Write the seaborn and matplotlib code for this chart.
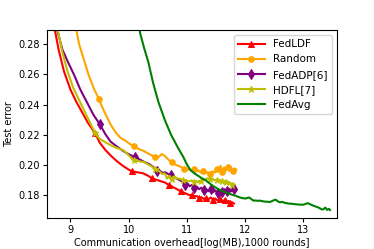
import numpy as np
import pandas as pd
import matplotlib
matplotlib.use("Agg")
import matplotlib.pyplot as plt
import seaborn as sns

# ---------------- data ----------------
ldf_x = [8.70, 8.73, 8.80, 8.89, 9.00, 9.10, 9.20, 9.30, 9.40, 9.43, 9.50, 9.60, 9.70, 9.80, 9.90,
         10.00, 10.06, 10.15, 10.25, 10.33, 10.40, 10.48, 10.55, 10.62, 10.69, 10.76, 10.83, 10.90,
         10.96, 11.00, 11.05, 11.09, 11.13, 11.17, 11.21, 11.25, 11.29, 11.33, 11.37, 11.41, 11.45,
         11.49, 11.53, 11.57, 11.61, 11.65, 11.69, 11.72, 11.75, 11.78, 11.81]
ldf_y = [0.296, 0.290, 0.276, 0.262, 0.250, 0.242, 0.235, 0.228, 0.2225, 0.2210, 0.2150, 0.2100,
         0.2060, 0.2025, 0.1995, 0.1970, 0.1958, 0.1952, 0.1945, 0.1930, 0.1912, 0.1902, 0.1893,
         0.1885, 0.1868, 0.1855, 0.1840, 0.1825, 0.1815, 0.1808, 0.1800, 0.1803, 0.1792, 0.1795,
         0.1783, 0.1787, 0.1776, 0.1782, 0.1773, 0.1785, 0.1770, 0.1778, 0.1765, 0.1772, 0.1760,
         0.1767, 0.1755, 0.1762, 0.1748, 0.1753, 0.1745]
ldf_marks = [9.43, 10.06, 10.40, 10.69, 10.90, 11.09, 11.21, 11.33, 11.45, 11.57, 11.65, 11.75]

rnd_x = [9.07, 9.10, 9.15, 9.23, 9.31, 9.40, 9.49, 9.58, 9.69, 9.78, 9.86, 9.95, 10.02, 10.09,
         10.18, 10.25, 10.32, 10.39, 10.46, 10.52, 10.57, 10.62, 10.66, 10.70, 10.74, 10.79, 10.85,
         10.90, 10.95, 11.00, 11.04, 11.08, 11.12, 11.16, 11.20, 11.24, 11.28, 11.32, 11.36, 11.40,
         11.44, 11.48, 11.52, 11.55, 11.58, 11.61, 11.64, 11.67, 11.70, 11.73, 11.76, 11.79, 11.82,
         11.85]
rnd_y = [0.300, 0.290, 0.280, 0.270, 0.260, 0.251, 0.2435, 0.2355, 0.2269, 0.2215, 0.2180, 0.2160,
         0.2140, 0.2124, 0.2105, 0.2095, 0.2080, 0.2065, 0.2050, 0.2055, 0.2073, 0.2060, 0.2045,
         0.2030, 0.2018, 0.2005, 0.1995, 0.1988, 0.1975, 0.1965, 0.1975, 0.1962, 0.1972, 0.1958,
         0.1965, 0.1950, 0.1958, 0.1945, 0.1952, 0.1942, 0.1958, 0.1950, 0.1972, 0.1960, 0.1995,
         0.1955, 0.1985, 0.1962, 0.1990, 0.1960, 0.1985, 0.1958, 0.1978, 0.1970]
rnd_marks = [9.49, 10.09, 10.46, 10.74, 10.95, 11.12, 11.28, 11.40, 11.52, 11.61, 11.70, 11.79]

adp_x = [8.74, 8.77, 8.86, 8.96, 9.06, 9.17, 9.29, 9.40, 9.50, 9.60, 9.69, 9.80, 9.90, 9.97,
         10.04, 10.11, 10.20, 10.28, 10.36, 10.43, 10.49, 10.54, 10.58, 10.63, 10.68, 10.73, 10.78,
         10.83, 10.88, 10.93, 10.97, 11.01, 11.05, 11.09, 11.13, 11.17, 11.21, 11.25, 11.29, 11.33,
         11.37, 11.41, 11.45, 11.49, 11.53, 11.57, 11.61, 11.65, 11.69, 11.73, 11.77, 11.81, 11.84]
adp_y = [0.300, 0.290, 0.2767, 0.268, 0.260, 0.250, 0.2411, 0.2330, 0.2273, 0.2205, 0.2155,
         0.2122, 0.2095, 0.2078, 0.2065, 0.2050, 0.2035, 0.2018, 0.2005, 0.1985, 0.1960, 0.1962,
         0.1948, 0.1952, 0.1940, 0.1932, 0.1918, 0.1910, 0.1900, 0.1888, 0.1870, 0.1878, 0.1860,
         0.1868, 0.1848, 0.1858, 0.1840, 0.1850, 0.1832, 0.1842, 0.1826, 0.1838, 0.1820, 0.1832,
         0.1815, 0.1828, 0.1822, 0.1840, 0.1825, 0.1842, 0.1826, 0.1840, 0.1830]
adp_marks = [9.50, 10.11, 10.49, 10.73, 10.97, 11.13, 11.29, 11.41, 11.53, 11.61, 11.69, 11.81]

hdfl_x = [8.75, 8.78, 8.86, 8.95, 9.05, 9.15, 9.25, 9.35, 9.43, 9.50, 9.58, 9.66, 9.74, 9.82,
          9.91, 10.00, 10.09, 10.18, 10.26, 10.33, 10.40, 10.46, 10.50, 10.54, 10.58, 10.62, 10.66,
          10.70, 10.74, 10.78, 10.83, 10.89, 10.94, 10.99, 11.04, 11.08, 11.12, 11.16, 11.20, 11.24,
          11.28, 11.32, 11.36, 11.40, 11.44, 11.48, 11.52, 11.56, 11.60, 11.64, 11.68, 11.72, 11.75,
          11.78, 11.81]
hdfl_y = [0.296, 0.290, 0.275, 0.262, 0.251, 0.243, 0.235, 0.227, 0.221, 0.2175, 0.2155, 0.2138,
          0.2122, 0.2110, 0.2098, 0.2065, 0.2030, 0.2025, 0.2020, 0.2005, 0.1990, 0.1972, 0.1968,
          0.1955, 0.1940, 0.1945, 0.1910, 0.1930, 0.1905, 0.1925, 0.1912, 0.1908, 0.1900, 0.1895,
          0.1892, 0.1898, 0.1888, 0.1894, 0.1885, 0.1895, 0.1900, 0.1905, 0.1912, 0.1906, 0.1910,
          0.1898, 0.1902, 0.1890, 0.1895, 0.1882, 0.1888, 0.1875, 0.1882, 0.1868, 0.1875]
hdfl_marks = [9.43, 10.09, 10.46, 10.74, 10.94, 11.12, 11.24, 11.40, 11.52, 11.60, 11.68, 11.78]

avg_x = [10.16, 10.20, 10.27, 10.34, 10.42, 10.51, 10.62, 10.73, 10.84, 10.94, 11.00, 11.06,
         11.13, 11.20, 11.26, 11.32, 11.38, 11.43, 11.49, 11.54, 11.60, 11.66, 11.72, 11.78, 11.83,
         11.88, 11.93, 11.97, 12.01, 12.04, 12.07, 12.10, 12.14, 12.18, 12.22, 12.26, 12.30, 12.34,
         12.38, 12.42, 12.46, 12.50, 12.53, 12.56, 12.60, 12.64, 12.68, 12.72, 12.76, 12.80, 12.84,
         12.88, 12.92, 12.96, 13.00, 13.04, 13.08, 13.12, 13.16, 13.20, 13.24, 13.28, 13.32, 13.35,
         13.38, 13.41, 13.44, 13.46]
avg_y = [0.296, 0.287, 0.277, 0.268, 0.2545, 0.242, 0.230, 0.220, 0.212, 0.2053, 0.2005, 0.1967,
         0.1945, 0.1927, 0.1912, 0.1900, 0.1882, 0.1867, 0.1852, 0.1840, 0.1830, 0.1820, 0.1812,
         0.1803, 0.1797, 0.1790, 0.1783, 0.1780, 0.1778, 0.1782, 0.1785, 0.1777, 0.1765, 0.1765,
         0.1763, 0.1764, 0.1760, 0.1758, 0.1757, 0.1755, 0.1760, 0.1768, 0.1770, 0.1760, 0.1753,
         0.1756, 0.1750, 0.1747, 0.1744, 0.1744, 0.1741, 0.1740, 0.1738, 0.1738, 0.1737, 0.1742,
         0.1748, 0.1740, 0.1733, 0.1727, 0.1722, 0.1715, 0.1705, 0.1708, 0.1718, 0.1703, 0.1710,
         0.1702]

x_label = "Communication overhead[log(MB),1000 rounds]"
y_label = "Test error"

# ---------------- plot ----------------
plt.rcParams['font.family'] = ['DejaVu Sans']
plt.rcParams['font.size'] = 7

fig, ax = plt.subplots(figsize=(3.74, 2.49), dpi=100)
fig.subplots_adjust(left=0.126, right=0.901, top=0.88, bottom=0.125)


def mark_idx(xs, marks):
    xs = np.asarray(xs)
    return [int(np.argmin(np.abs(xs - m))) for m in marks]


series = [
    ("FedLDF", ldf_x, ldf_y, ldf_marks, "red", "^", 4.5),
    ("Random", rnd_x, rnd_y, rnd_marks, "orange", "o", 4.0),
    ("FedADP[6]", adp_x, adp_y, adp_marks, "purple", "d", 5.0),
    ("HDFL[7]", hdfl_x, hdfl_y, hdfl_marks, "y", "*", 5.0),
    ("FedAvg", avg_x, avg_y, None, "green", None, 0),
]

for name, xs, ys, marks, col, mk, ms in series:
    df = pd.DataFrame({"x": xs, "y": ys})
    kw = dict(color=col, linewidth=1.5, label=name)
    if mk is not None:
        kw.update(marker=mk, markersize=ms, markevery=mark_idx(xs, marks),
                  markeredgecolor=col, markerfacecolor=col)
    sns.lineplot(data=df, x="x", y="y", ax=ax, estimator=None, sort=False, **kw)

ax.set_xlim(8.6, 13.58)
ax.set_ylim(0.165, 0.2895)
ax.set_xticks([9, 10, 11, 12, 13])
ax.set_yticks([0.18, 0.20, 0.22, 0.24, 0.26, 0.28])
ax.set_yticklabels(["0.18", "0.20", "0.22", "0.24", "0.26", "0.28"])
ax.set_xlabel(x_label, fontsize=7, labelpad=2)
ax.set_ylabel(y_label, fontsize=7, labelpad=3)
ax.tick_params(labelsize=7, length=3, pad=2)
ax.legend(loc="upper right", fontsize=7.5, handlelength=2.6)

fig.savefig("out.png", dpi=100)
